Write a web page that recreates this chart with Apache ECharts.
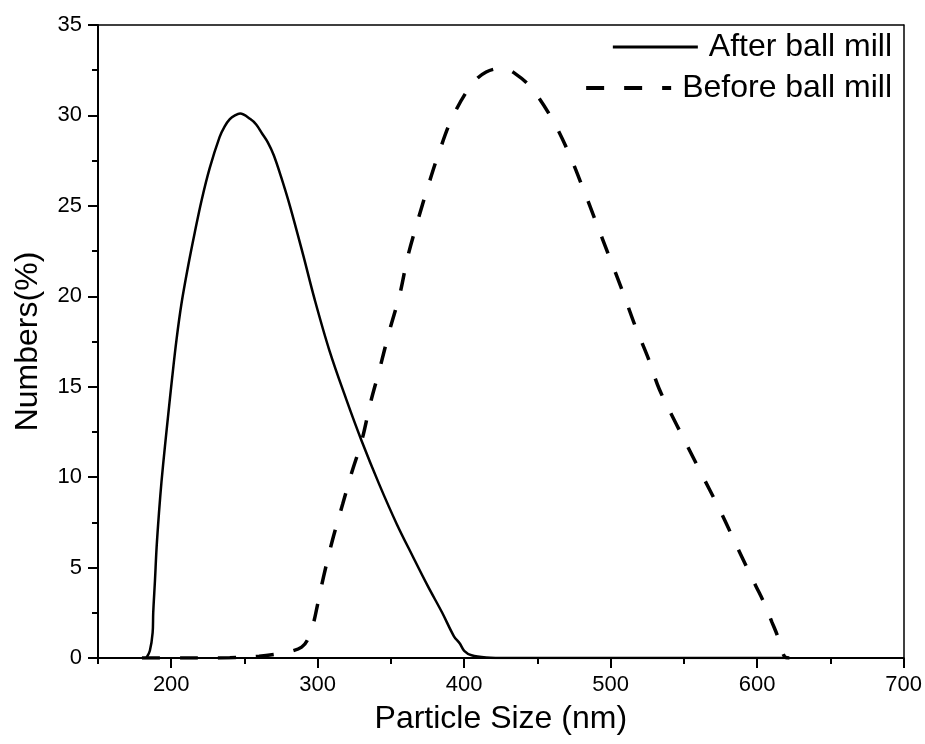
<!DOCTYPE html>
<html>
<head>
<meta charset="utf-8">
<script src="https://cdn.jsdelivr.net/npm/echarts@6/dist/echarts.min.js"></script>
<style>
	html, body { margin: 0; padding: 0; background: #fff; }
	#chart1 { width: 925px; height: 744px; }
</style>
</head>
<body>
<div id="chart1"></div>
<script>
//粒径 (nm) / 数量 (%)
var afterSize = [183, 185.4, 187.3, 187.7, 188.9, 190, 191.6, 193.4, 195.7, 198, 200.5, 203.6, 207, 211.6, 216, 220.7, 226.3, 233, 236.5, 240, 243.5, 247, 254, 258, 262, 266, 270, 275, 281, 290, 298, 308, 319.5, 330, 342, 354, 365, 375, 385, 393, 397, 400, 405, 415, 430, 500, 620];
var afterNum = [0, 0.4, 1.4, 2.5, 4.3, 6.1, 8, 9.8, 11.7, 13.5, 15.4, 17.6, 19.6, 21.7, 23.5, 25.3, 27.1, 28.8, 29.4, 29.8, 30.0, 30.1, 29.8, 29.5, 29, 28.5, 27.8, 26.6, 25, 22.3, 19.8, 17, 14.3, 12, 9.6, 7.4, 5.6, 4, 2.5, 1.2, 0.8, 0.4, 0.15, 0.03, 0, 0, 0];

var beforeSize = [180, 200, 220, 240, 260, 275, 281, 289, 293, 297, 300, 304, 310, 317, 323, 330, 336, 342, 349, 356, 361.5, 368, 375, 383, 392, 405, 415, 426, 435, 446, 460, 471, 481, 490, 499, 508, 517, 526, 533, 545, 560, 575, 586, 593, 599, 605, 610, 614, 617, 619, 622];
var beforeNum = [0, 0, 0, 0.02, 0.1, 0.25, 0.35, 0.6, 1.0, 1.9, 3, 4.5, 6.5, 8.5, 10.2, 12, 14.1, 15.9, 18.1, 20.1, 22.2, 24.1, 26, 28, 29.9, 31.7, 32.4, 32.6, 32.3, 31.5, 29.8, 28, 26, 24.1, 22.2, 20.3, 18.3, 16.5, 14.9, 12.9, 10.5, 8.1, 6.2, 5.0, 4.0, 3.0, 2.0, 1.2, 0.4, 0.05, 0];

var seriesNames = ["After ball mill", "Before ball mill"];

//横轴刻度
var xMajorTicks = [200, 300, 400, 500, 600, 700];
var xMinorTicks = [150, 250, 350, 450, 550, 650];

function pairs(xs, ys) {
	var arr = [];
	for (let i = 0; i < xs.length; i++) {
		arr.push([xs[i], ys[i]]);
	}
	return arr;
}

var chart = echarts.init(document.getElementById("chart1"));

var fontName = "Liberation Sans, Arial, sans-serif";
var black = "#000";

//图例: 实线 / 虚线 图标
var solidIcon = "path://M0,0H85V3H0Z";
var dashIcon = "path://M0,0H18V4H0Z M38,0H56V4H38Z M76,0H85V4H76Z";

var legendBase = {
	orient: "vertical",
	right: 28,
	itemWidth: 85,
	textStyle: { fontSize: 32, color: black, fontFamily: fontName, padding: [0, 0, 0, 6] }
};

var option = {
	backgroundColor: "#fff",
	animation: false,
	grid: { left: 98, right: 20, top: 25, bottom: 86 },
	legend: [
		Object.assign({}, legendBase, { top: 26, itemHeight: 3, data: [{ name: seriesNames[0], icon: solidIcon }] }),
		Object.assign({}, legendBase, { top: 67, itemHeight: 4, data: [{ name: seriesNames[1], icon: dashIcon }] })
	],
	xAxis: [{
		type: "value",
		min: 150,
		max: 700,
		interval: 50,
		name: "Particle Size (nm)",
		nameLocation: "middle",
		nameGap: 45,
		nameTextStyle: { fontSize: 32, color: black, fontFamily: fontName },
		axisLine: { lineStyle: { color: black, width: 2 } },
		axisTick: { show: true, inside: false, length: 10, customValues: xMajorTicks, lineStyle: { color: black, width: 2 } },
		axisLabel: { fontSize: 22, color: black, fontFamily: fontName, margin: 16, customValues: xMajorTicks },
		splitLine: { show: false }
	}, {
		//次刻度
		type: "value",
		position: "bottom",
		min: 150,
		max: 700,
		interval: 50,
		axisLine: { show: false },
		axisTick: { show: true, inside: false, length: 6, customValues: xMinorTicks, lineStyle: { color: black, width: 2 } },
		axisLabel: { show: false },
		splitLine: { show: false }
	}, {
		//顶部框线
		type: "value",
		position: "top",
		min: 150,
		max: 700,
		axisLine: { onZero: false, lineStyle: { color: black, width: 1.5 } },
		axisTick: { show: false },
		axisLabel: { show: false },
		splitLine: { show: false }
	}],
	yAxis: [{
		type: "value",
		min: 0,
		max: 35,
		interval: 5,
		name: "Numbers(%)",
		nameLocation: "middle",
		nameGap: 54,
		nameTextStyle: { fontSize: 32, color: black, fontFamily: fontName },
		axisLine: { show: true, lineStyle: { color: black, width: 2 } },
		axisTick: { show: true, inside: false, length: 10, lineStyle: { color: black, width: 2 } },
		minorTick: { show: true, splitNumber: 2, length: 6, lineStyle: { color: black, width: 2 } },
		axisLabel: { fontSize: 22, color: black, fontFamily: fontName, margin: 16 },
		splitLine: { show: false }
	}, {
		//右侧框线
		type: "value",
		position: "right",
		min: 0,
		max: 35,
		axisLine: { show: true, onZero: false, lineStyle: { color: black, width: 1.5 } },
		axisTick: { show: false },
		axisLabel: { show: false },
		splitLine: { show: false }
	}],
	series: [{
		name: seriesNames[0],
		type: "line",
		data: pairs(afterSize, afterNum),
		smooth: 0.35,
		showSymbol: false,
		symbol: "none",
		itemStyle: { color: black },
		lineStyle: { color: black, width: 2.5, type: "solid" }
	}, {
		name: seriesNames[1],
		type: "line",
		data: pairs(beforeSize, beforeNum),
		smooth: 0.35,
		showSymbol: false,
		symbol: "none",
		itemStyle: { color: black },
		lineStyle: { color: black, width: 3.5, type: [18, 20] }
	}]
};

chart.setOption(option);
</script>
</body>
</html>
